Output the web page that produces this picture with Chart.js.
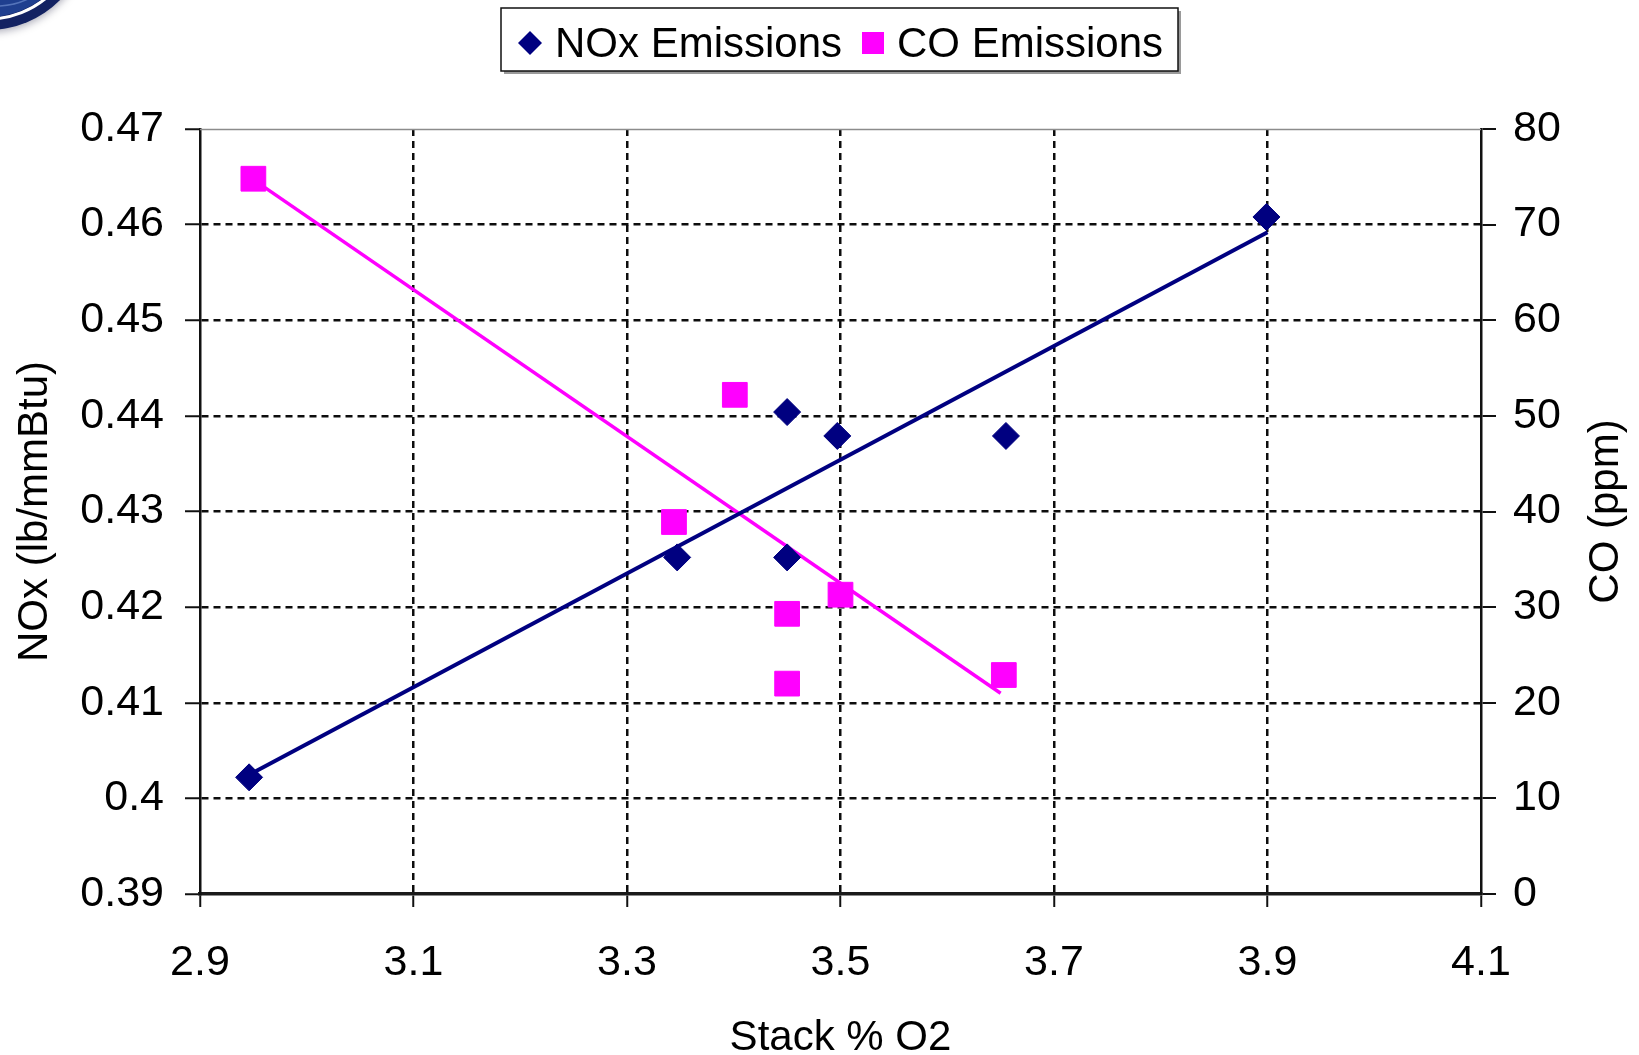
<!DOCTYPE html>
<html>
<head>
<meta charset="utf-8">
<script src="https://cdn.jsdelivr.net/npm/chart.js@4/dist/chart.umd.min.js"></script>
<style>
  html, body { margin: 0; padding: 0; background: #ffffff; }
  #wrap { width: 1639px; height: 1055px; position: relative; }
</style>
</head>
<body>
<div id="wrap"><canvas id="chart" width="1639" height="1055"></canvas></div>
<script>
// Stack O2 (%) against NOx and CO emissions
const noxO2 = [2.946, 3.347, 3.450, 3.450, 3.497, 3.655, 3.899];
const noxValues = [0.4022, 0.4252, 0.4404, 0.4252, 0.4379, 0.4379, 0.4608];
const coO2 = [2.950, 3.344, 3.401, 3.450, 3.450, 3.500, 3.653];
const coValues = [74.8, 38.9, 52.2, 29.3, 22.0, 31.3, 22.9];

// linear trend line end points
const noxTrendO2 = [2.95, 3.90];
const noxTrendValues = [0.4027, 0.4592];
const coTrendO2 = [2.95, 3.65];
const coTrendValues = [74.7, 21.0];

// axis ticks
const o2Ticks = [2.9, 3.1, 3.3, 3.5, 3.7, 3.9, 4.1];
const noxTicks = [0.39, 0.40, 0.41, 0.42, 0.43, 0.44, 0.45, 0.46, 0.47];
const coTicks = [0, 10, 20, 30, 40, 50, 60, 70, 80];

const seriesNames = ['NOx Emissions', 'CO Emissions'];
const axisTitles = { x: 'Stack % O2', nox: 'NOx (lb/mmBtu)', co: 'CO (ppm)' };

const NAVY = '#000080';
const MAGENTA = '#ff00ff';
const FONT = '"Liberation Sans", Arial, sans-serif';
const TEXT_SIZE = 42;
const TICK_SIZE = 43;

Chart.defaults.font.family = FONT;
Chart.defaults.font.size = TICK_SIZE;
Chart.defaults.color = '#000000';

const pts = (xs, ys) => xs.map((x, i) => ({ x: x, y: ys[i] }));
const fmt = v => String(parseFloat(v.toFixed(2)));
const fixedTicks = arr => scale => { scale.ticks = arr.map(v => ({ value: v })); };

const GRID_DASH = [7, 5];
const GRID_COLOR = '#0d0d0d';

// page decoration, legend box and the right-hand axis title
const decor = {
  id: 'decor',
  beforeDraw(chart) {
    const ctx = chart.ctx;
    ctx.save();
    // corner emblem
    const cx = -12, cy = -72;
    ctx.shadowColor = 'rgba(0,0,40,0.35)';
    ctx.shadowBlur = 8;
    ctx.shadowOffsetY = 2;
    ctx.beginPath(); ctx.arc(cx, cy, 102, 0, Math.PI * 2);
    ctx.fillStyle = '#132262'; ctx.fill();
    ctx.shadowColor = 'transparent';
    ctx.beginPath(); ctx.arc(cx, cy, 91, 0, Math.PI * 2);
    ctx.lineWidth = 3; ctx.strokeStyle = '#ffffff'; ctx.stroke();
    ctx.beginPath(); ctx.arc(cx, cy, 89, 0, Math.PI * 2);
    ctx.fillStyle = '#1f3f8f'; ctx.fill();
    ctx.strokeStyle = 'rgba(140,170,230,0.5)'; ctx.lineWidth = 1.5;
    for (let r = 30; r < 89; r += 22) {
      ctx.beginPath(); ctx.arc(cx + 8, cy + 4, r, 0, Math.PI * 2); ctx.stroke();
    }
    ctx.restore();
  },
  afterDraw(chart) {
    const ctx = chart.ctx;
    const area = chart.chartArea;
    ctx.save();
    // solid top edge of the plot
    ctx.beginPath();
    ctx.moveTo(area.left, area.top + 0.5);
    ctx.lineTo(area.right, area.top + 0.5);
    ctx.lineWidth = 1.5; ctx.strokeStyle = '#8c8c8c'; ctx.stroke();

    // legend
    const bx = 501, by = 8, bw = 677, bh = 63;
    ctx.fillStyle = '#9a9a9a';
    ctx.fillRect(bx + 3, by + 3, bw, bh);
    ctx.fillStyle = '#ffffff';
    ctx.fillRect(bx, by, bw, bh);
    ctx.lineWidth = 1.5; ctx.strokeStyle = '#111111';
    ctx.strokeRect(bx, by, bw, bh);
    const my = 43;
    ctx.beginPath();
    ctx.moveTo(530, my - 12); ctx.lineTo(542, my); ctx.lineTo(530, my + 12); ctx.lineTo(518, my);
    ctx.closePath(); ctx.fillStyle = NAVY; ctx.fill();
    ctx.fillStyle = MAGENTA;
    ctx.fillRect(862, my - 11, 22, 22);
    ctx.fillStyle = '#000000';
    ctx.font = TEXT_SIZE + 'px ' + FONT;
    ctx.textBaseline = 'middle';
    ctx.textAlign = 'left';
    ctx.fillText(seriesNames[0], 555, my + 2);
    ctx.fillText(seriesNames[1], 897, my + 2);

    // right axis title, reading upward
    ctx.translate(1606, (area.top + area.bottom) / 2);
    ctx.rotate(-Math.PI / 2);
    ctx.textAlign = 'center';
    ctx.fillText(axisTitles.co, 0, 0);
    ctx.restore();
  }
};

new Chart(document.getElementById('chart'), {
  type: 'scatter',
  data: {
    datasets: [
      {
        label: seriesNames[0],
        data: pts(noxO2, noxValues),
        yAxisID: 'y',
        pointStyle: 'rectRot',
        pointRadius: 13.5,
        pointBorderWidth: 1,
        backgroundColor: NAVY,
        borderColor: NAVY,
        order: 0
      },
      {
        label: seriesNames[1],
        data: pts(coO2, coValues),
        yAxisID: 'y2',
        pointStyle: 'rect',
        pointRadius: 17.5,
        pointBorderWidth: 1,
        backgroundColor: MAGENTA,
        borderColor: MAGENTA,
        order: 0
      },
      {
        label: 'NOx trend',
        data: pts(noxTrendO2, noxTrendValues),
        yAxisID: 'y',
        showLine: true,
        pointRadius: 0,
        borderColor: NAVY,
        borderWidth: 4,
        order: 1
      },
      {
        label: 'CO trend',
        data: pts(coTrendO2, coTrendValues),
        yAxisID: 'y2',
        showLine: true,
        pointRadius: 0,
        borderColor: MAGENTA,
        borderWidth: 3.5,
        order: 1
      }
    ]
  },
  options: {
    responsive: false,
    animation: false,
    layout: { padding: { top: 129, left: 0, right: 0, bottom: 0 } },
    plugins: { legend: { display: false }, tooltip: { enabled: false } },
    scales: {
      x: {
        type: 'linear',
        position: 'bottom',
        min: o2Ticks[0],
        max: o2Ticks[o2Ticks.length - 1],
        afterBuildTicks: fixedTicks(o2Ticks),
        afterFit(s) { s.height = 161; },
        ticks: { padding: 30, callback: v => String(parseFloat(v.toFixed(1))), maxRotation: 0, autoSkip: false },
        grid: {
          color: c => (c.index === 0 || c.index === o2Ticks.length - 1) ? 'rgba(0,0,0,0)' : GRID_COLOR,
          lineWidth: 2.5,
          tickColor: '#111111',
          tickWidth: 2,
          tickLength: 13
        },
        border: { display: true, color: '#1a1a1a', width: 3.5, dash: GRID_DASH },
        title: {
          display: true,
          text: axisTitles.x,
          font: { size: TEXT_SIZE, lineHeight: 0.8 },
          padding: { top: 0, bottom: 0 }
        }
      },
      y: {
        type: 'linear',
        position: 'left',
        min: noxTicks[0],
        max: noxTicks[noxTicks.length - 1],
        afterBuildTicks: fixedTicks(noxTicks),
        afterFit(s) { s.width = 200; },
        ticks: { padding: 21, callback: v => fmt(v), autoSkip: false },
        grid: {
          color: c => (c.index === 0 || c.index === noxTicks.length - 1) ? 'rgba(0,0,0,0)' : GRID_COLOR,
          lineWidth: 2.5,
          tickColor: '#111111',
          tickWidth: 2,
          tickLength: 15
        },
        border: { display: true, color: '#111111', width: 2.5, dash: GRID_DASH },
        title: {
          display: true,
          text: axisTitles.nox,
          font: { size: TEXT_SIZE, lineHeight: 1.2 },
          padding: { top: 10, bottom: 0 }
        }
      },
      y2: {
        type: 'linear',
        position: 'right',
        min: coTicks[0],
        max: coTicks[coTicks.length - 1],
        afterBuildTicks: fixedTicks(coTicks),
        afterFit(s) { s.width = 158; },
        ticks: { padding: 17, callback: v => String(v), autoSkip: false },
        grid: {
          drawOnChartArea: false,
          color: '#111111',
          lineWidth: 2,
          tickColor: '#111111',
          tickWidth: 2,
          tickLength: 15
        },
        border: { display: true, color: '#111111', width: 2.5 }
      }
    }
  },
  plugins: [decor]
});
</script>
</body>
</html>
